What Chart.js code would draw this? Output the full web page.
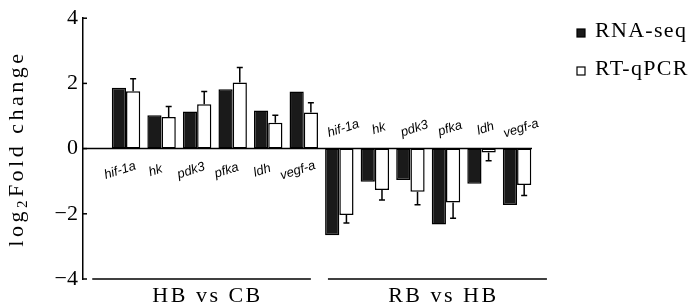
<!DOCTYPE html>
<html>
<head>
<meta charset="utf-8">
<title>log2 fold change</title>
<script src="https://cdn.jsdelivr.net/npm/chart.js@4.4.0/dist/chart.umd.min.js"></script>
<style>
  html, body { margin: 0; padding: 0; background: #fff; }
  #wrap { width: 700px; height: 308px; }
</style>
</head>
<body>
<div id="wrap"><canvas id="foldChart"></canvas></div>
<script>
// Genes shown in each comparison group
const genes = ['hif-1a', 'hk', 'pdk3', 'pfka', 'ldh', 'vegf-a'];
const comparisons = ['HB vs CB', 'RB vs HB'];
const seriesNames = ['RNA-seq', 'RT-qPCR'];

// log2 fold change, first six = HB vs CB, last six = RB vs HB
const rnaSeq = [1.87, 1.02, 1.14, 1.82, 1.17, 1.75, -2.66, -1.02, -0.96, -2.33, -1.08, -1.73];
const rtQpcr = [1.76, 0.97, 1.36, 2.03, 0.79, 1.11, -2.04, -1.27, -1.32, -1.65, -0.12, -1.12];
const rtQpcrErr = [0.38, 0.32, 0.39, 0.46, 0.23, 0.30, 0.24, 0.31, 0.40, 0.49, 0.25, 0.32];

const yTicks = [-4, -2, 0, 2, 4];

const serif = '"Liberation Serif", "Times New Roman", serif';

// write text with extra tracking (the original font is wide)
function spacedText(ctx, text, x, y, spacing) {
    ctx.letterSpacing = spacing + 'px';
    ctx.fillText(text, x, y);
    ctx.letterSpacing = '0px';
}

// Draws the figure decorations: zero line, inward ticks, error bars, labels, legend
const figurePlugin = {
    id: 'figureDecor',
    afterDraw: function (chart) {
        const ctx = chart.ctx;
        const xs = chart.scales.x;
        const ys = chart.scales.y;
        const area = chart.chartArea;
        const y0 = ys.getPixelForValue(0);

        ctx.save();
        ctx.strokeStyle = '#000';
        ctx.fillStyle = '#000';
        ctx.lineWidth = 1.5;

        // zero line
        ctx.beginPath();
        ctx.moveTo(area.left, y0);
        ctx.lineTo(area.right, y0);
        ctx.stroke();

        // inward tick marks on the y axis
        yTicks.forEach(v => {
            const py = ys.getPixelForValue(v);
            ctx.beginPath();
            ctx.moveTo(area.left, py);
            ctx.lineTo(area.left + 4, py);
            ctx.stroke();
        });

        // error bars on RT-qPCR, pointing away from zero
        const meta = chart.getDatasetMeta(1);
        meta.data.forEach((bar, i) => {
            const dir = rtQpcr[i] >= 0 ? 1 : -1;
            const end = ys.getPixelForValue(rtQpcr[i] + dir * rtQpcrErr[i]);
            ctx.beginPath();
            ctx.moveTo(bar.x, bar.y);
            ctx.lineTo(bar.x, end);
            ctx.moveTo(bar.x - 3, end);
            ctx.lineTo(bar.x + 3, end);
            ctx.stroke();
        });

        // gene names, italic and tilted
        ctx.font = 'italic 13px "Liberation Sans", Arial, sans-serif';
        ctx.textAlign = 'center';
        ctx.textBaseline = 'middle';
        for (let i = 0; i < genes.length * comparisons.length; i++) {
            const first = i < genes.length;
            const cx = xs.getPixelForValue(i) + (first ? -6 : 4);
            const cy = first ? y0 + 22 : y0 - 20;
            ctx.save();
            ctx.translate(cx, cy);
            ctx.rotate(-18 * Math.PI / 180);
            ctx.fillText(genes[i % genes.length], 0, 0);
            ctx.restore();
        }

        // group underlines and names
        const spans = [[-0.95, 5.2], [5.68, 11.84]];
        ctx.font = '22px ' + serif;
        ctx.textBaseline = 'alphabetic';
        spans.forEach((s, g) => {
            const a = xs.getPixelForValue(s[0]);
            const b = xs.getPixelForValue(s[1]);
            ctx.beginPath();
            ctx.moveTo(a, area.bottom);
            ctx.lineTo(b, area.bottom);
            ctx.stroke();
            spacedText(ctx, comparisons[g], (a + b) / 2 + 6, area.bottom + 23, 2.5);
        });

        // y axis title with subscript 2
        ctx.save();
        ctx.translate(17, (area.top + area.bottom) / 2);
        ctx.rotate(-Math.PI / 2);
        const big = '22px ' + serif;
        const small = '15px ' + serif;
        const track = 3.5;
        ctx.letterSpacing = track + 'px';
        ctx.font = big;
        const w1 = ctx.measureText('log').width;
        const w3 = ctx.measureText('Fold change').width;
        ctx.font = small;
        const w2 = ctx.measureText('2').width;
        let tx = -(w1 + w2 + w3) / 2;
        ctx.textAlign = 'left';
        ctx.textBaseline = 'middle';
        ctx.font = big;
        ctx.fillText('log', tx, 0);
        tx += w1;
        ctx.font = small;
        ctx.fillText('2', tx, 6);
        tx += w2;
        ctx.font = big;
        ctx.fillText('Fold change', tx, 0);
        ctx.letterSpacing = '0px';
        ctx.restore();

        // legend
        const fills = ['#1a1a1a', '#ffffff'];
        const rowY = [37, 75];
        ctx.font = '22px ' + serif;
        ctx.textAlign = 'left';
        ctx.textBaseline = 'alphabetic';
        seriesNames.forEach((name, k) => {
            ctx.fillStyle = fills[k];
            ctx.fillRect(577, rowY[k] - 8, 8, 8);
            ctx.lineWidth = 1.2;
            ctx.strokeRect(577, rowY[k] - 8, 8, 8);
            ctx.fillStyle = '#000';
            spacedText(ctx, name, 595, rowY[k], 1.3);
        });

        ctx.restore();
    }
};

const ctx = document.getElementById('foldChart').getContext('2d');
new Chart(ctx, {
    type: 'bar',
    data: {
        datasets: [
            {
                label: seriesNames[0],
                data: rnaSeq.map((v, i) => ({ x: i, y: v })),
                backgroundColor: '#1a1a1a',
                borderColor: '#000',
                borderWidth: 1.5,
                borderSkipped: false
            },
            {
                label: seriesNames[1],
                data: rtQpcr.map((v, i) => ({ x: i, y: v })),
                backgroundColor: '#ffffff',
                borderColor: '#000',
                borderWidth: 1.5,
                borderSkipped: false
            }
        ]
    },
    options: {
        responsive: true,
        maintainAspectRatio: false,
        animation: false,
        categoryPercentage: 0.8,
        barPercentage: 1.0,
        layout: {
            autoPadding: false,
            padding: { left: 0, top: 12, right: 168, bottom: 29 }
        },
        plugins: {
            legend: { display: false },
            tooltip: { enabled: false }
        },
        scales: {
            x: {
                type: 'linear',
                display: false,
                offset: false,
                min: -1.21,
                max: 11.42
            },
            y: {
                min: -4,
                max: 4,
                afterFit: function (scale) {
                    scale.width = 83;
                },
                afterBuildTicks: function (scale) {
                    scale.ticks = yTicks.map(v => ({ value: v }));
                },
                grid: { display: false, drawTicks: false },
                border: { display: true, color: '#000', width: 1.5 },
                ticks: {
                    padding: 5,
                    color: '#000',
                    font: { family: serif, size: 22 },
                    callback: v => String(v).replace('-', '\u2212')
                }
            }
        }
    },
    plugins: [figurePlugin]
});
</script>
</body>
</html>
